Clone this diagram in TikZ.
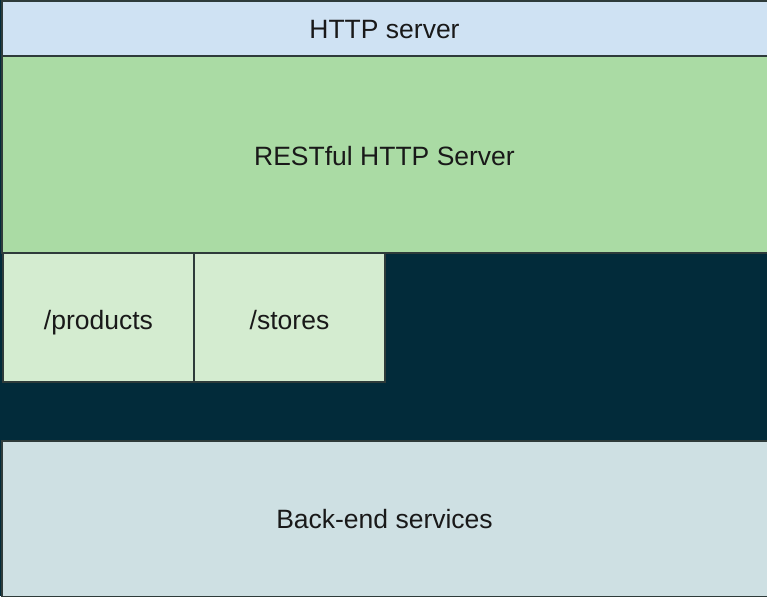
\documentclass[tikz,border=0pt]{standalone}
\usepackage{fontspec}
\setmainfont{Liberation Sans}
\definecolor{bgdark}{HTML}{022B3A}
\definecolor{httpblue}{HTML}{CFE2F3}
\definecolor{restgreen}{HTML}{AADBA4}
\definecolor{routegreen}{HTML}{D4ECD0}
\definecolor{backend}{HTML}{CEE0E3}
\definecolor{edge}{HTML}{2E3B3A}
\tikzset{
  layer/.style={draw=edge, line width=1.2pt, anchor=north west, inner sep=0pt, outer sep=0pt},
  label/.style={font=\fontsize{26.5}{30}\selectfont, text=black!90, text depth=0pt, inner sep=0pt},
}
\begin{document}
\begin{tikzpicture}[x=1pt,y=-1pt]
\fill[bgdark] (0,0) rectangle (767,596);
\useasboundingbox (0,0) rectangle (767,596);
\node[layer, fill=httpblue, minimum width=766pt, minimum height=55pt] (http) at (2,1) {};
\node[label] (httpt) at (384.5,29) {HTTP server};
\node[layer, fill=restgreen, minimum width=766pt, minimum height=197pt] (rest) at (2,56) {};
\node[label] (restt) at (384.5,156) {RESTful HTTP Server};
\node[layer, fill=routegreen, minimum width=191pt, minimum height=129pt] (products) at (3,253) {};
\node[label] (productst) at (98.5,320) {/products};
\node[layer, fill=routegreen, minimum width=191pt, minimum height=129pt] (stores) at (194,253) {};
\node[label] (storest) at (289.5,320) {/stores};
\node[layer, fill=backend, minimum width=766pt, minimum height=156pt] (backendbox) at (2,441) {};
\node[label] (backendt) at (384.5,519) {Back-end services};
\end{tikzpicture}
\end{document}
